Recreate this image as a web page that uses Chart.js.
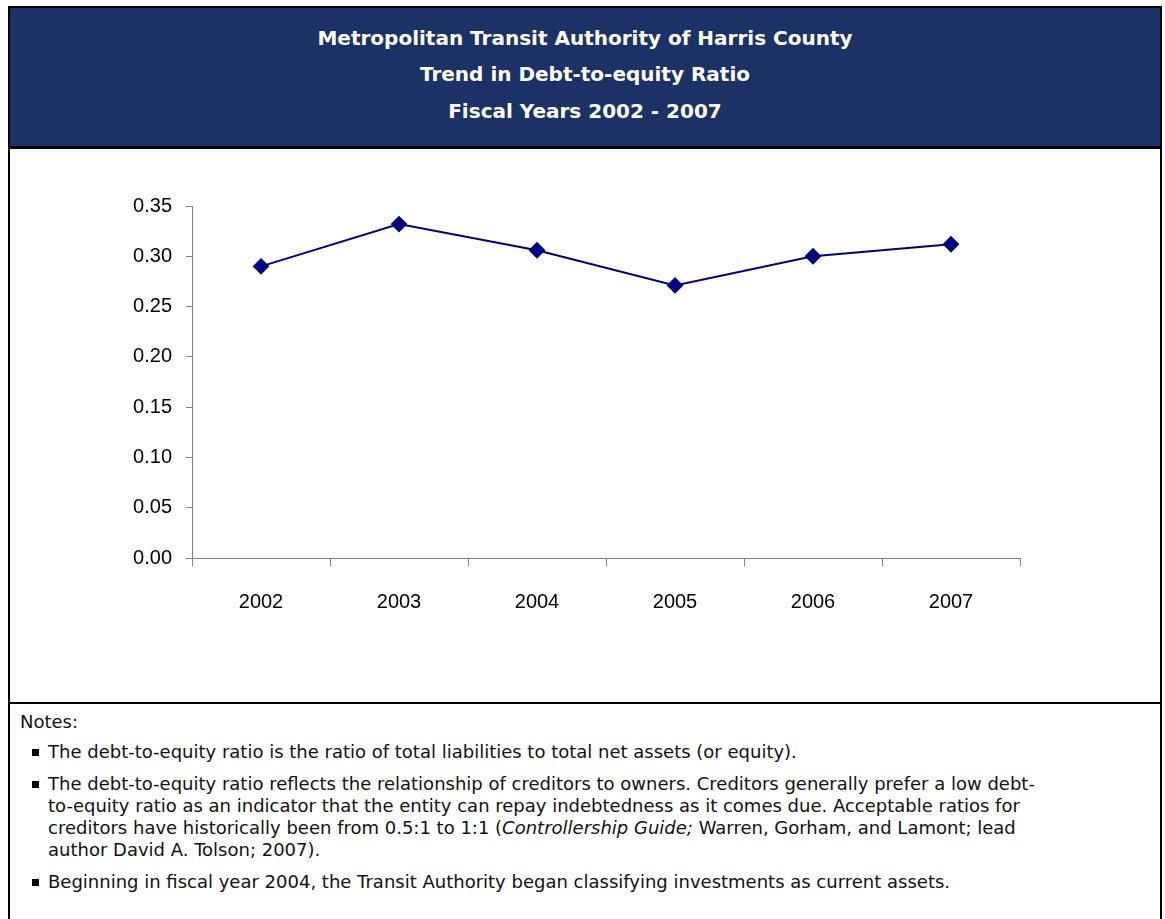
<!DOCTYPE html>
<html>
<head>
<meta charset="utf-8">
<script src="https://cdn.jsdelivr.net/npm/chart.js@4"></script>
<style>
  body { margin: 0; background: #fff; }
  #frame {
    position: absolute; left: 8px; top: 6px; width: 1150px; height: 913px;
    border-top: 2px solid #000; border-left: 2px solid #000; border-right: 2px solid #000;
  }
  #header {
    position: absolute; left: 0; top: 0; width: 1150px; height: 138px;
    background: #1c3166; border-bottom: 3px solid #000;
    color: #fff; text-align: center;
    font-family: "DejaVu Sans", sans-serif; font-weight: bold; font-size: 20px;
  }
  #header div { position: absolute; left: 0; width: 100%; }
  #plot { position: absolute; left: 0; top: 141px; width: 1150px; height: 553px; }
  #notes {
    position: absolute; left: 0; top: 694px; width: 1150px; height: 219px;
    border-top: 2px solid #000;
    font-family: "DejaVu Sans", sans-serif; font-size: 18px; color: #111;
  }
  #notes .lbl { position: absolute; left: 10px; top: 7px; line-height: 22px; }
  #notes ul { position: absolute; left: 0; top: 37px; margin: 0; padding: 0; list-style: none; }
  #notes li { position: relative; padding-left: 38px; line-height: 22px; margin-bottom: 10px; white-space: nowrap; }
  #notes li::before {
    content: ""; position: absolute; left: 22px; top: 8px; width: 7px; height: 7px; background: #000;
  }
</style>
</head>
<body>
<div id="frame">
  <div id="header">
    <div style="top:18px">Metropolitan Transit Authority of Harris County</div>
    <div style="top:54px">Trend in Debt-to-equity Ratio</div>
    <div style="top:91px">Fiscal Years 2002 - 2007</div>
  </div>
  <div id="plot"><canvas id="lineChart" width="1150" height="553"></canvas></div>
  <div id="notes">
    <div class="lbl">Notes:</div>
    <ul>
      <li>The debt-to-equity ratio is the ratio of total liabilities to total net assets (or equity).</li>
      <li>The debt-to-equity ratio reflects the relationship of creditors to owners. Creditors generally prefer a low debt-<br>to-equity ratio as an indicator that the entity can repay indebtedness as it comes due. Acceptable ratios for<br>creditors have historically been from 0.5:1 to 1:1 (<i>Controllership Guide;</i> Warren, Gorham, and Lamont; lead<br>author David A. Tolson; 2007).</li>
      <li>Beginning in fiscal year 2004, the Transit Authority began classifying investments as current assets.</li>
    </ul>
  </div>
</div>
<script>
const years = ['2002', '2003', '2004', '2005', '2006', '2007'];
const debtToEquity = [0.290, 0.332, 0.306, 0.271, 0.300, 0.312];
const yTicks = [0, 0.05, 0.10, 0.15, 0.20, 0.25, 0.30, 0.35];

const axisFont = { family: 'Liberation Sans, Arial, sans-serif', size: 20 };

new Chart(document.getElementById('lineChart').getContext('2d'), {
    type: 'line',
    data: {
        labels: years,
        datasets: [{
            label: 'Debt-to-equity Ratio',
            data: debtToEquity,
            borderColor: '#000080',
            backgroundColor: '#000080',
            borderWidth: 2,
            pointStyle: 'rectRot',
            pointRadius: 7,
            pointHoverRadius: 7,
            tension: 0,
            fill: false
        }]
    },
    options: {
        responsive: false,
        animation: false,
        layout: { padding: { left: 0, right: 140, top: 57, bottom: 84 } },
        plugins: { legend: { display: false }, tooltip: { enabled: false } },
        scales: {
            x: {
                offset: true,
                grid: { offset: true, drawOnChartArea: false, tickLength: 8, color: '#808080' },
                border: { color: '#808080', width: 1 },
                ticks: { color: '#000', font: axisFont, padding: 24 },
                afterFit: s => { s.height = 60; }
            },
            y: {
                min: 0,
                max: 0.35,
                afterBuildTicks: s => { s.ticks = yTicks.map(v => ({ value: v })); },
                grid: { drawOnChartArea: false, tickLength: 6, color: '#808080' },
                border: { color: '#808080', width: 1 },
                ticks: { color: '#000', font: axisFont, padding: 14, callback: v => v.toFixed(2) },
                afterFit: s => { s.width = 182; }
            }
        }
    }
});
</script>
</body>
</html>
